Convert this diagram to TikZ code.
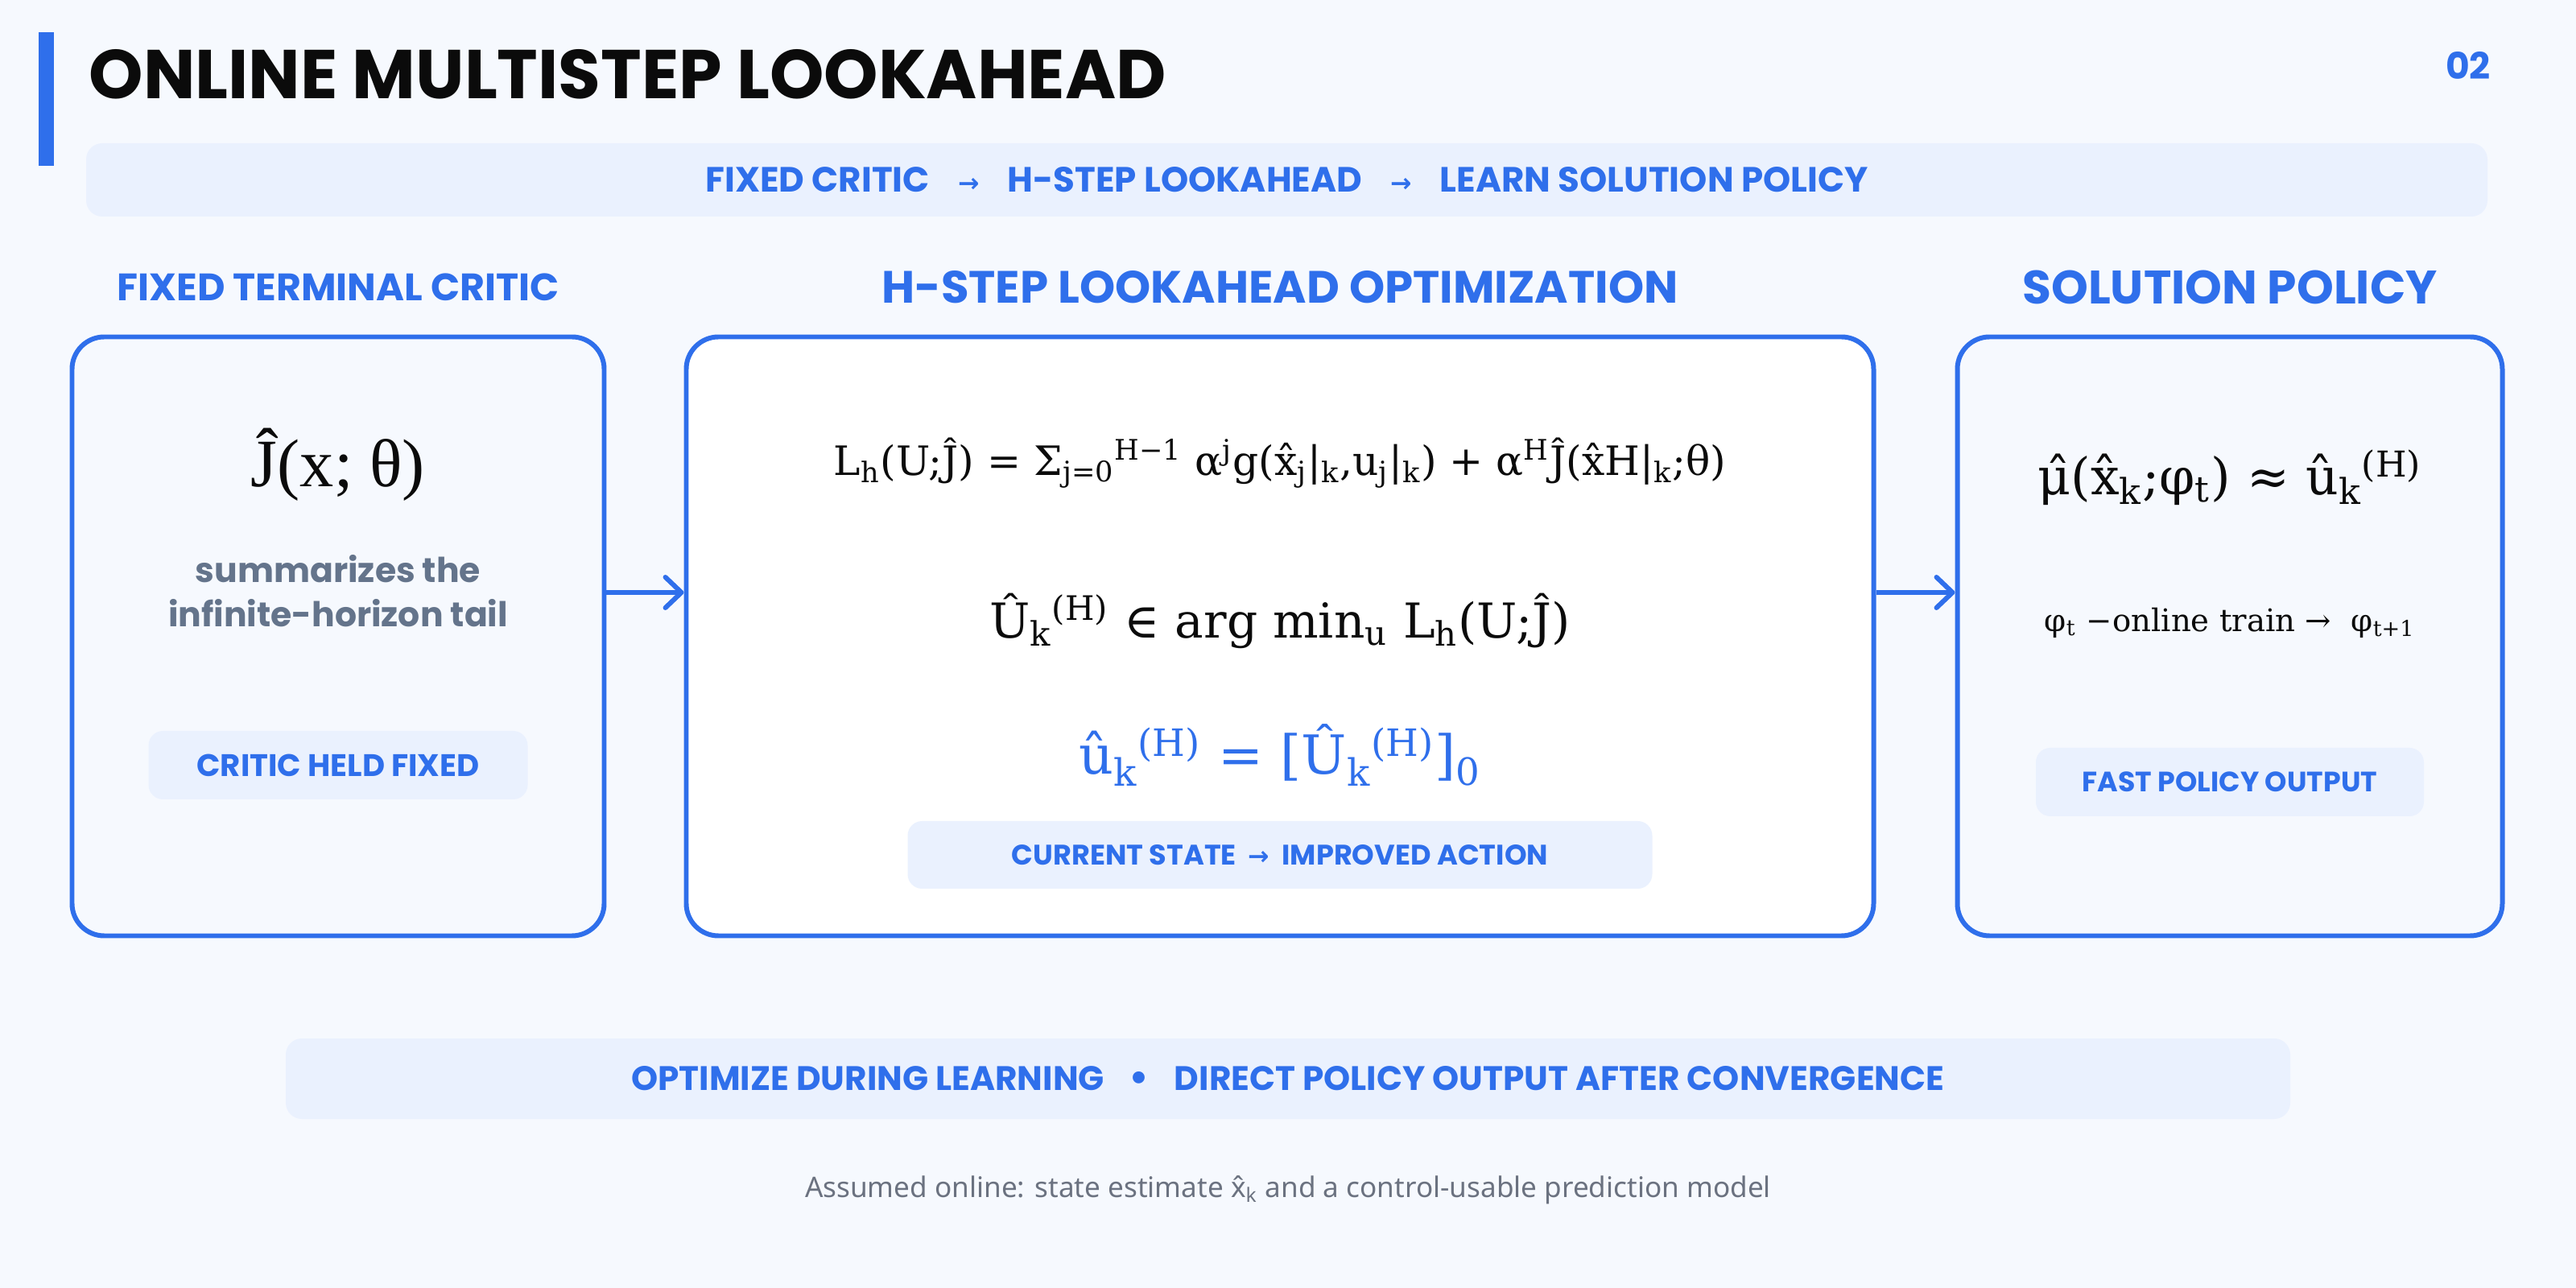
\documentclass[tikz,border=0pt]{standalone}
\usepackage{fontspec}
\setmainfont{Poppins}
\newfontfamily\dvserif{DejaVu Serif}
\newfontfamily\libserif{Liberation Serif}
\newfontfamily\dvsans{DejaVu Sans}
\newfontfamily\notesans{Noto Sans}
\usetikzlibrary{arrows.meta,positioning}
\definecolor{pagebg}{HTML}{F6F9FE}
\definecolor{accent}{HTML}{2F6FEB}
\definecolor{chipbg}{HTML}{EAF1FE}
\definecolor{slate}{HTML}{64748B}
\definecolor{ink}{HTML}{0B0B0B}
\definecolor{muted}{HTML}{6B7280}
\newcommand{\sbs}[1]{\textsubscript{#1}}
\newcommand{\sps}[1]{\textsuperscript{#1}}
\newcommand{\flowarr}{{\dvsans\bfseries\fontsize{9}{10}\selectfont →}}
\tikzset
{
    panel/.style = {rectangle, rounded corners=0.4cm, draw=accent, line width=1.7pt, fill=pagebg, minimum height=7.44cm},
    chip/.style = {rectangle, rounded corners=0.18cm, fill=chipbg, text=accent, font=\bfseries\fontsize{11}{13}\selectfont, minimum height=0.85cm},
    banner/.style = {rectangle, rounded corners=0.2cm, fill=chipbg, text=accent, font=\bfseries\fontsize{12}{14}\selectfont},
    heading/.style = {text=accent, font=\bfseries\fontsize{16.6}{20}\selectfont},
    formula/.style = {text=ink, font=\dvserif\fontsize{#1}{#1}\selectfont, inner sep=0pt},
    arrow/.style = {line width=1.7pt, accent, ->, >={Straight Barb[length=2mm,width=3.8mm,round]}}
}

\begin{document}
\begin{tikzpicture}
	\fill[pagebg] (0,0) rectangle (32,-16);
	\useasboundingbox (0,0) rectangle (32,-16);
	\fill[accent] (0.48,-0.40) rectangle (0.67,-2.06);
	\node[anchor=base west, inner sep=0pt, text=ink, font=\bfseries\fontsize{24.4}{28}\selectfont] (title) at (1.10,-1.23) {ONLINE MULTISTEP LOOKAHEAD};
	\node[text=accent, font=\bfseries\fontsize{13}{15}\selectfont] (pagenum) at (30.66,-0.81) {02};
	
	\node[banner, minimum width=29.83cm, minimum height=0.91cm, font=\bfseries\fontsize{12.4}{14}\selectfont] (flowbar) at (15.985,-2.235)
		{FIXED CRITIC\hspace{0.35cm}\flowarr\hspace{0.35cm}H-STEP LOOKAHEAD\hspace{0.35cm}\flowarr\hspace{0.35cm}LEARN SOLUTION POLICY};
	
	\node[panel, fill=white, minimum width=14.75cm] (lookahead) at (15.90,-7.905) {};
	\node[panel, minimum width=6.61cm] (critic) [left of=lookahead, xshift=-10.70cm] {};
	\node[panel, minimum width=6.77cm] (policy) [right of=lookahead, xshift=10.80cm] {};
	
	\node[heading, font=\bfseries\fontsize{13.5}{16}\selectfont] (crittitle) [above of=critic, yshift=3.335cm] {FIXED TERMINAL CRITIC};
	\node[heading, font=\bfseries\fontsize{16}{19}\selectfont] (looktitle) [above of=lookahead, yshift=3.335cm] {H-STEP LOOKAHEAD OPTIMIZATION};
	\node[heading] (poltitle) [above of=policy, yshift=3.335cm] {SOLUTION POLICY};
	
	\node[formula=24, font=\libserif\fontsize{24}{24}\selectfont] (jhat) [above of=critic, yshift=1.13cm] {Ĵ(x; θ)};
	\node[text=slate, align=center, font=\bfseries\fontsize{12.1}{15.6}\selectfont] (tail) [above of=critic, yshift=-0.44cm] {summarizes the\\infinite-horizon tail};
	\node[chip, minimum width=4.71cm] (held) [below of=critic, yshift=-0.60cm] {CRITIC HELD FIXED};
	
	\node[formula=14.3] (lossdef) [above of=lookahead, yshift=1.155cm]
		{L\sbs{h}(U;Ĵ) = Σ\sbs{j=0}\sps{H−1} α\sps{j}g(x̂\sbs{j}|\sbs{k},u\sbs{j}|\sbs{k}) + α\sps{H}Ĵ(x̂H|\sbs{k};θ)};
	\node[formula=17] (argmin) [above of=lookahead, yshift=-0.805cm]
		{Û\sbs{k}\sps{(H)} ∈ arg min\sbs{u} L\sbs{h}(U;Ĵ)};
	\node[formula=19, text=accent] (firstact) [below of=lookahead, yshift=-0.475cm]
		{û\sbs{k}\sps{(H)} = [Û\sbs{k}\sps{(H)}]\sbs{0}};
	\node[chip, minimum width=9.25cm, minimum height=0.84cm, font=\bfseries\fontsize{10}{12}\selectfont] (improve) [below of=lookahead, yshift=-1.715cm]
		{CURRENT STATE\hspace{0.15cm}\flowarr\hspace{0.15cm}IMPROVED ACTION};
	
	\node[formula=18] (approx) [above of=policy, yshift=0.975cm] {μ̂(x̂\sbs{k};φ\sbs{t}) ≈ û\sbs{k}\sps{(H)}};
	\node[formula=11] (train) [above of=policy, yshift=-0.83cm] {φ\sbs{t} −online train → \ φ\sbs{t+1}};
	\node[chip, minimum width=4.82cm, font=\bfseries\fontsize{9.9}{12}\selectfont] (fast) [below of=policy, yshift=-0.81cm] {FAST POLICY OUTPUT};
	
	\draw[arrow] ([yshift=0.545cm]critic.east) -- ([yshift=0.545cm]lookahead.west);
	\draw[arrow] ([yshift=0.545cm]lookahead.east) -- ([yshift=0.545cm]policy.west);
	
	\node[banner, minimum width=24.9cm, minimum height=1.0cm] (summary) at (16.0,-13.40)
		{OPTIMIZE DURING LEARNING\hspace{0.3cm}{\dvsans •}\hspace{0.3cm}DIRECT POLICY OUTPUT AFTER CONVERGENCE};
	\node[text=muted, font=\notesans\fontsize{10}{12}\selectfont] (assume) [below of=summary, yshift=-0.38cm]
		{Assumed online: state estimate x̂\sbs{k} and a control-usable prediction model};
\end{tikzpicture}
\end{document}
